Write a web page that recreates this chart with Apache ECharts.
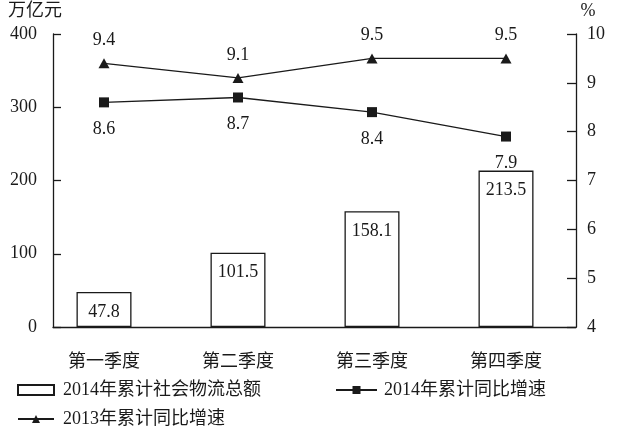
<!DOCTYPE html>
<html>
<head>
<meta charset="utf-8">
<script src="https://cdn.jsdelivr.net/npm/echarts@6/dist/echarts.min.js"></script>
<style>
  html, body { margin: 0; padding: 0; background: #fff; }
  #chart { width: 618px; height: 438px; }
</style>
</head>
<body>
<div id="chart"></div>
<script>
// Quarters of 2014
const categories = ['第一季度', '第二季度', '第三季度', '第四季度'];
// Cumulative total social logistics, 2014 (trillion yuan)
const logisticsTotal2014 = [47.8, 101.5, 158.1, 213.5];
// Cumulative year-on-year growth (%)
const growth2014 = [8.6, 8.7, 8.4, 7.9];
const growth2013 = [9.4, 9.1, 9.5, 9.5];
// Axis ranges
const leftTicks = { min: 0, max: 400, interval: 100 };
const rightTicks = { min: 4, max: 10, interval: 1 };

const seriesNames = ['2014年累计社会物流总额', '2014年累计同比增速', '2013年累计同比增速'];

const ink = '#1a1a1a';
const font = "'Liberation Serif', 'Noto Sans CJK SC', serif";
const fs = 18;

const chart = echarts.init(document.getElementById('chart'), null, { renderer: 'canvas' });

const legendBase = {
  orient: 'horizontal',
  itemGap: 10,
  textStyle: { fontFamily: font, fontSize: fs, color: ink, padding: [0, 0, 0, 4] },
  selectedMode: false
};

chart.setOption({
  animation: false,
  backgroundColor: '#ffffff',
  textStyle: { fontFamily: font, color: ink },
  grid: [
    // frame with the two value axes
    { left: 53, right: 42, top: 34, bottom: 111, containLabel: false },
    // category band for bars and lines
    { left: 37, right: 45, top: 34, bottom: 111, containLabel: false }
  ],
  legend: [
    Object.assign({}, legendBase, {
      data: [{ name: seriesNames[0], icon: 'rect' }], left: 12, top: 376, itemWidth: 36, itemHeight: 10
    }),
    Object.assign({}, legendBase, {
      data: [seriesNames[1]], left: 330, top: 376, itemWidth: 41, itemHeight: 10,
      textStyle: { fontFamily: font, fontSize: fs, color: ink, padding: [0, 0, 0, 2] }
    }),
    Object.assign({}, legendBase, {
      data: [seriesNames[2]], left: 12, top: 405, itemWidth: 36, itemHeight: 10
    })
  ],
  xAxis: [
    {
      type: 'category', gridIndex: 0, data: categories,
      axisLine: { show: true, lineStyle: { color: ink, width: 1.3 } },
      axisTick: { show: false }, axisLabel: { show: false }, splitLine: { show: false }
    },
    {
      type: 'category', gridIndex: 1, data: categories, boundaryGap: true,
      axisLine: { show: false }, axisTick: { show: false },
      axisLabel: { show: true, margin: 26, fontFamily: font, fontSize: fs, color: ink }
    }
  ],
  yAxis: [
    {
      type: 'value', gridIndex: 0, position: 'left',
      min: leftTicks.min, max: leftTicks.max, interval: leftTicks.interval,
      name: '万亿元', nameLocation: 'end', nameGap: 14,
      nameTextStyle: { fontFamily: font, fontSize: fs, color: ink, align: 'center', padding: [0, 36, 0, 0] },
      axisLine: { show: true, lineStyle: { color: ink, width: 1.3 } },
      axisTick: { show: true, inside: true, length: 8, lineStyle: { color: ink, width: 1.3 } },
      axisLabel: { margin: 16, fontFamily: font, fontSize: fs, color: ink },
      splitLine: { show: false }
    },
    {
      type: 'value', gridIndex: 0, position: 'right',
      min: rightTicks.min, max: rightTicks.max, interval: rightTicks.interval,
      name: '%', nameLocation: 'end', nameGap: 14,
      nameTextStyle: { fontFamily: font, fontSize: fs, color: ink, align: 'center', padding: [0, 0, 0, 24] },
      axisLine: { show: true, lineStyle: { color: ink, width: 1.3 } },
      axisTick: { show: true, inside: true, length: 9, lineStyle: { color: ink, width: 1.3 } },
      axisLabel: { margin: 11, fontFamily: font, fontSize: fs, color: ink },
      splitLine: { show: false }
    },
    {
      type: 'value', gridIndex: 1, show: false,
      min: leftTicks.min, max: leftTicks.max, interval: leftTicks.interval
    },
    {
      type: 'value', gridIndex: 1, show: false,
      min: rightTicks.min, max: rightTicks.max, interval: rightTicks.interval
    }
  ],
  series: [
    {
      name: seriesNames[0], type: 'bar', xAxisIndex: 1, yAxisIndex: 2,
      data: logisticsTotal2014, barWidth: 55,
      itemStyle: { color: '#ffffff', borderColor: ink, borderWidth: 1.3 },
      label: {
        show: true, position: 'insideTop', distance: 11,
        fontFamily: font, fontSize: fs, color: ink
      },
      z: 2
    },
    {
      name: seriesNames[1], type: 'line', xAxisIndex: 1, yAxisIndex: 3,
      data: growth2014, symbol: 'rect', symbolSize: 10,
      lineStyle: { color: ink, width: 1.3 }, itemStyle: { color: ink },
      label: {
        show: true, position: 'bottom', distance: 13,
        fontFamily: font, fontSize: fs, color: ink
      },
      z: 3
    },
    {
      name: seriesNames[2], type: 'line', xAxisIndex: 1, yAxisIndex: 3,
      data: growth2013, symbol: 'triangle', symbolSize: [11, 10],
      lineStyle: { color: ink, width: 1.3 }, itemStyle: { color: ink },
      label: {
        show: true, position: 'top', distance: 9,
        fontFamily: font, fontSize: fs, color: ink
      },
      z: 3
    }
  ]
});
</script>
</body>
</html>
